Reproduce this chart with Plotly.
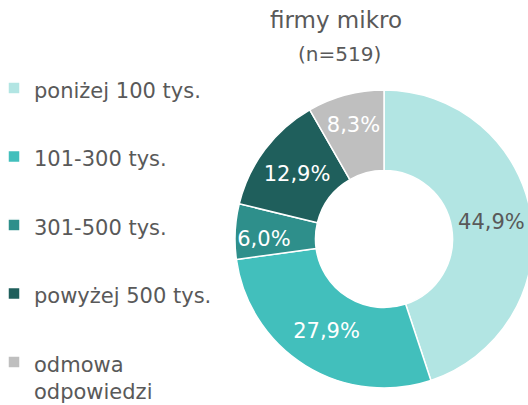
import plotly.graph_objects as go

labels = ["poniżej 100 tys.", "101-300 tys.", "301-500 tys.", "powyżej 500 tys.", "odmowa<br>odpowiedzi"]
values = [44.9, 27.9, 6.0, 12.9, 8.3]
colors = ["#b2e5e3", "#42bfbc", "#2e8f8b", "#1f5f5c", "#bfbfbf"]
text_colors = ["#595959", "#ffffff", "#ffffff", "#ffffff", "#ffffff"]
title_main = "firmy mikro"
title_sub = "(n=519)"

FONT = "DejaVu Sans"
GREY = "#595959"
LEG_SIZE = 21
LEG_F = 25.2
W, H = 536, 405

def leg_label(s):
    lines = s.split("<br>")
    if len(lines) == 1:
        lines.append("&nbsp;")
    out = []
    for i, l in enumerate(lines):
        shift = "baseline-shift:6px;" if i > 0 else ""
        out.append(f"<span style='font-size:{LEG_SIZE}px;{shift}'>{l}</span>")
    return "<br>".join(out)

cx, cy, r = 384, 239, 149

fig = go.Figure(go.Pie(
    labels=[leg_label(l) for l in labels],
    values=values,
    hole=0.46,
    sort=False,
    direction="clockwise",
    rotation=0,
    marker=dict(colors=colors, line=dict(color="#ffffff", width=1.5)),
    texttemplate="%{value:.1f}%",
    textposition="inside",
    insidetextorientation="horizontal",
    insidetextfont=dict(family=FONT, size=21, color=text_colors),
    domain=dict(x=[(cx - r) / W, (cx + r) / W],
                y=[(H - cy - r) / H, (H - cy + r) / H]),
))

fig.update_layout(
    width=W, height=H,
    margin=dict(l=0, r=0, t=0, b=0, autoexpand=False),
    paper_bgcolor="white",
    separators=", ",
    font=dict(family=FONT, color=GREY),
    uniformtext=dict(minsize=21, mode="show"),
    legend=dict(
        x=-6 / W, xanchor="left", y=1 - 65 / H, yanchor="top",
        font=dict(family=FONT, size=LEG_F, color=GREY),
        valign="top",
        bgcolor="rgba(0,0,0,0)",
    ),
    annotations=[
        dict(text=title_main, x=336 / W, y=1 - 5 / H, xref="paper", yref="paper",
             xanchor="center", yanchor="top",
             showarrow=False, font=dict(family=FONT, size=23, color=GREY)),
        dict(text=title_sub, x=339 / W, y=1 - 40 / H, xref="paper", yref="paper",
             xanchor="center", yanchor="top",
             showarrow=False, font=dict(family=FONT, size=20, color=GREY)),
    ],
)

fig.write_html(
    "out.html",
    config={"displayModeBar": False},
    post_script="document.body.style.margin='0';document.body.style.overflow='hidden';",
)
